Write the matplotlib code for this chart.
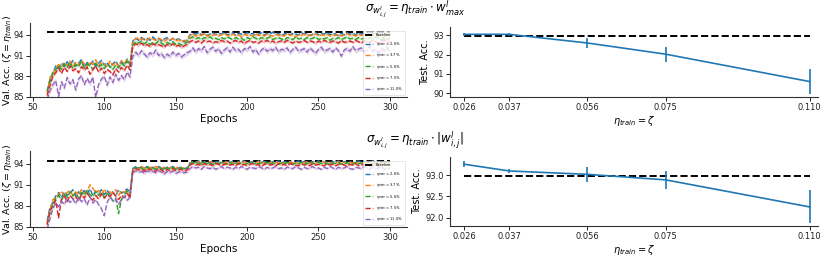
import numpy as np
import matplotlib
matplotlib.use("Agg")
import matplotlib.pyplot as plt

# ------------------------------------------------------------
# data (one value every 2 epochs: 60..300)
# ------------------------------------------------------------
epochs = np.arange(60, 301, 2)
labels = ["2.6%", "3.7%", "5.6%", "7.5%", "11.0%"]
baseline_val = 94.4

# sigma = eta * w_max
top_26 = [
    85.8, 87.6, 88.4, 89.5, 89.2, 89.9, 89.4, 90.1, 89.6, 90.3,
    89.5, 89.9, 90.4, 89.3, 90.0, 89.7, 90.2, 89.4, 89.9, 90.3,
    89.6, 90.0, 89.3, 89.8, 90.2, 89.5, 90.1, 89.7, 90.5, 89.8,
    93.1, 93.5, 93.2, 93.6, 93.3, 93.5, 93.2, 93.7, 93.3, 93.5,
    93.1, 93.4, 93.6, 93.2, 93.5, 93.3, 93.4, 93.2, 93.0, 93.3,
    94.0, 94.2, 94.1, 94.3, 94.0, 94.2, 93.9, 94.1, 94.3, 94.0,
    94.2, 94.1, 94.4, 94.0, 94.1, 94.3, 93.9, 94.2, 94.1, 94.0,
    94.3, 94.1, 94.2, 93.9, 94.1, 94.3, 94.0, 94.2, 94.1, 94.4,
    94.0, 94.2, 93.9, 94.1, 94.3, 94.0, 94.2, 94.1, 94.0, 94.3,
    94.1, 94.2, 93.9, 94.1, 94.3, 94.0, 94.2, 94.1, 94.4, 94.0,
    94.2, 94.1, 93.9, 94.2, 94.0, 94.3, 94.1, 94.2, 94.0, 94.3,
    94.1, 94.2, 94.0, 94.4, 94.1, 94.2, 93.9, 94.1, 94.3, 94.0,
    94.2,
]
top_37 = [
    85.5, 87.9, 88.1, 89.2, 89.7, 89.3, 90.0, 89.5, 90.2, 89.4,
    90.0, 89.6, 90.3, 89.8, 89.4, 90.1, 89.7, 90.4, 89.5, 90.0,
    89.8, 89.3, 90.2, 89.6, 90.0, 89.4, 90.3, 89.9, 90.4, 89.6,
    93.2, 93.4, 93.6, 93.3, 93.5, 93.2, 93.6, 93.4, 93.2, 93.5,
    93.3, 93.0, 93.4, 93.2, 93.5, 93.1, 93.3, 93.0, 93.2, 93.1,
    93.9, 94.1, 93.8, 94.0, 93.9, 94.2, 93.8, 94.0, 93.9, 94.1,
    93.8, 94.0, 94.2, 93.9, 93.8, 94.1, 93.9, 94.0, 93.7, 94.1,
    93.9, 94.0, 93.8, 94.2, 93.9, 94.0, 93.8, 94.1, 93.9, 93.8,
    94.1, 93.9, 94.0, 93.8, 94.2, 93.9, 94.0, 93.7, 94.0, 93.9,
    94.1, 93.8, 94.0, 93.9, 94.2, 93.8, 94.0, 93.9, 94.1, 93.8,
    94.0, 93.9, 94.1, 93.8, 94.0, 94.2, 93.9, 94.0, 93.8, 94.1,
    93.9, 94.0, 93.8, 94.1, 93.9, 94.2, 93.8, 94.0, 93.9, 94.1,
    93.9,
]
top_56 = [
    85.9, 87.2, 88.6, 88.9, 89.6, 89.0, 89.8, 89.3, 90.0, 89.1,
    89.7, 89.4, 90.1, 89.2, 89.8, 89.5, 89.0, 89.9, 89.3, 89.7,
    89.1, 89.8, 89.4, 89.0, 89.6, 89.2, 89.9, 89.5, 90.2, 89.4,
    92.6, 93.0, 92.8, 93.1, 92.7, 93.0, 92.6, 92.9, 92.7, 93.1,
    92.8, 92.5, 92.9, 92.7, 93.0, 92.6, 92.8, 92.5, 92.7, 92.9,
    93.5, 93.7, 93.4, 93.6, 93.3, 93.6, 93.5, 93.7, 93.4, 93.5,
    93.3, 93.6, 93.4, 93.7, 93.5, 93.3, 93.6, 93.4, 93.5, 93.2,
    93.6, 93.4, 93.7, 93.5, 93.3, 93.6, 93.4, 93.5, 93.7, 93.3,
    93.5, 93.6, 93.4, 93.2, 93.6, 93.5, 93.3, 93.7, 93.4, 93.5,
    93.3, 93.6, 93.4, 93.5, 93.7, 93.3, 93.5, 93.4, 93.6, 93.2,
    93.5, 93.4, 93.6, 93.3, 93.5, 93.7, 93.4, 93.5, 93.3, 93.6,
    93.4, 93.5, 93.3, 93.6, 93.4, 93.7, 93.5, 93.3, 93.6, 93.4,
    93.5,
]
top_75 = [
    85.2, 86.6, 88.0, 88.5, 89.2, 88.4, 89.3, 88.7, 89.5, 88.8,
    89.1, 88.5, 89.4, 88.9, 89.3, 88.3, 89.0, 89.5, 88.6, 89.2,
    88.4, 89.0, 88.7, 88.2, 89.1, 88.6, 89.3, 88.8, 89.6, 88.9,
    92.3, 92.7, 92.5, 92.8, 92.4, 92.6, 92.3, 92.7, 92.5, 92.6,
    92.4, 92.2, 92.6, 92.4, 92.7, 92.3, 92.5, 92.2, 92.4, 92.6,
    93.0, 93.2, 92.9, 93.1, 92.8, 93.2, 93.0, 93.1, 92.8, 93.0,
    92.9, 93.2, 93.0, 93.1, 92.8, 93.0, 93.2, 92.9, 93.1, 92.7,
    93.0, 93.2, 92.9, 93.0, 92.8, 93.1, 93.0, 93.2, 92.9, 93.1,
    92.8, 93.0, 93.1, 92.9, 93.2, 93.0, 92.8, 93.1, 92.9, 93.0,
    93.2, 92.9, 93.1, 93.0, 92.8, 93.1, 92.9, 93.2, 93.0, 92.9,
    93.1, 93.0, 92.8, 93.2, 92.9, 93.0, 93.1, 92.9, 93.2, 93.0,
    92.8, 93.1, 93.0, 92.9, 93.2, 93.0, 92.8, 93.1, 93.3, 92.9,
    93.0,
]
top_110 = [
    84.6, 85.9, 86.8, 87.4, 85.1, 87.2, 86.3, 87.8, 86.9, 87.5,
    86.0, 87.6, 88.1, 86.8, 87.7, 86.9, 87.9, 84.9, 86.8, 87.6,
    88.0, 86.7, 87.9, 87.1, 88.3, 87.4, 88.1, 87.5, 88.6, 87.9,
    90.9, 91.5, 91.0, 91.7, 91.2, 90.8, 91.4, 91.1, 91.8, 91.0,
    91.3, 90.7, 91.2, 90.9, 91.5, 91.0, 91.3, 90.8, 91.1, 91.4,
    91.6, 92.1, 91.5, 92.0, 91.7, 92.3, 91.4, 91.9, 92.2, 91.6,
    92.0, 91.3, 91.8, 92.1, 91.5, 92.2, 91.7, 91.9, 91.4, 92.0,
    91.8, 92.3, 91.5, 91.9, 91.2, 91.8, 92.1, 91.6, 92.0, 91.7,
    92.2, 91.5, 91.9, 91.8, 92.1, 91.4, 91.9, 92.2, 91.6, 91.8,
    92.0, 91.5, 92.1, 91.7, 91.3, 91.9, 92.2, 91.6, 91.8, 92.0,
    91.5, 92.1, 91.7, 90.9, 91.8, 92.0, 91.6, 92.3, 91.7, 91.9,
    92.1, 91.5, 91.8, 92.4, 91.6, 91.9, 91.4, 92.0, 91.7, 92.2,
    91.3,
]

# sigma = eta * |w|
bot_26 = [
    85.9, 87.8, 88.5, 89.4, 89.9, 89.2, 90.0, 89.5, 89.8, 90.3,
    89.4, 90.0, 89.6, 90.2, 89.7, 90.4, 89.5, 90.1, 89.8, 90.3,
    89.6, 90.2, 89.7, 90.0, 89.4, 90.3, 89.8, 90.1, 90.4, 89.9,
    93.3, 93.6, 93.4, 93.5, 93.3, 93.6, 93.4, 93.5, 93.2, 93.6,
    93.4, 93.3, 93.5, 93.4, 93.6, 93.3, 93.4, 93.5, 93.3, 93.4,
    94.1, 94.3, 94.2, 94.4, 94.1, 94.3, 94.2, 94.1, 94.4, 94.2,
    94.3, 94.1, 94.2, 94.4, 94.2, 94.3, 94.1, 94.3, 94.2, 94.4,
    94.1, 94.2, 94.3, 94.1, 94.4, 94.2, 94.3, 94.2, 94.1, 94.3,
    94.2, 94.4, 94.1, 94.3, 94.2, 94.3, 94.1, 94.2, 94.4, 94.2,
    94.3, 94.1, 94.2, 94.3, 94.1, 94.4, 94.2, 94.3, 94.2, 94.1,
    94.3, 94.2, 94.4, 94.1, 94.3, 94.2, 94.3, 94.1, 94.2, 94.4,
    94.2, 94.3, 94.1, 94.2, 94.4, 94.2, 94.3, 94.1, 94.3, 94.2,
    94.3,
]
bot_37 = [
    85.6, 87.3, 88.9, 89.1, 89.7, 90.1, 89.4, 89.9, 90.2, 89.5,
    90.0, 89.6, 90.3, 89.8, 90.1, 91.0, 90.5, 89.9, 90.2, 89.6,
    90.4, 89.7, 90.0, 89.8, 90.3, 89.5, 90.1, 89.9, 90.2, 89.7,
    93.2, 93.5, 93.3, 93.6, 93.4, 93.2, 93.5, 93.3, 93.6, 93.4,
    93.3, 93.5, 93.2, 93.4, 93.5, 93.3, 93.6, 93.3, 93.4, 93.2,
    94.1, 94.2, 94.0, 94.3, 94.1, 94.2, 94.0, 94.3, 94.1, 94.2,
    94.0, 94.2, 94.1, 94.3, 94.0, 94.2, 94.1, 94.2, 94.0, 94.3,
    94.1, 94.0, 94.2, 94.1, 94.3, 94.0, 94.2, 94.1, 94.2, 94.0,
    94.3, 94.1, 94.2, 94.0, 94.1, 94.3, 94.1, 94.2, 94.0, 94.2,
    94.1, 94.3, 94.0, 94.2, 94.1, 94.2, 94.0, 94.3, 94.1, 94.2,
    94.0, 94.1, 94.3, 94.1, 94.2, 94.0, 94.2, 94.1, 94.3, 94.0,
    94.2, 94.1, 94.2, 94.0, 94.3, 94.1, 94.2, 94.0, 94.1, 94.3,
    94.1,
]
bot_56 = [
    85.4, 87.0, 88.3, 89.0, 89.5, 88.8, 89.7, 89.2, 90.0, 89.4,
    89.8, 89.1, 89.9, 89.5, 90.2, 89.6, 89.3, 90.0, 89.5, 89.9,
    89.2, 89.8, 89.4, 88.7, 89.1, 86.9, 88.9, 89.6, 90.1, 89.5,
    93.2, 93.5, 93.3, 93.4, 93.1, 93.5, 93.3, 93.4, 93.2, 93.5,
    93.3, 93.1, 93.4, 93.3, 93.5, 93.2, 93.3, 93.4, 93.2, 93.3,
    94.0, 94.2, 94.0, 94.1, 93.9, 94.2, 94.0, 94.1, 93.9, 94.1,
    94.0, 94.2, 93.9, 94.0, 94.1, 93.9, 94.2, 94.0, 94.1, 93.9,
    94.0, 94.2, 94.1, 93.9, 94.0, 94.1, 94.0, 94.2, 93.9, 94.1,
    94.0, 93.9, 94.1, 94.0, 94.2, 94.0, 93.9, 94.1, 94.0, 94.2,
    93.9, 94.1, 94.0, 94.1, 93.9, 94.2, 94.0, 94.1, 94.0, 93.9,
    94.1, 94.0, 94.2, 93.9, 94.0, 94.1, 94.0, 93.9, 94.2, 94.0,
    94.1, 93.9, 94.0, 94.2, 94.0, 94.1, 93.9, 94.1, 94.0, 94.2,
    94.0,
]
bot_75 = [
    85.3, 87.4, 87.9, 88.8, 86.3, 88.9, 89.4, 88.6, 89.5, 89.0,
    89.3, 88.7, 89.6, 89.1, 89.8, 89.2, 88.8, 89.5, 89.0, 89.7,
    89.1, 89.6, 89.3, 89.9, 89.4, 88.9, 89.5, 89.2, 89.8, 89.1,
    93.0, 93.3, 93.1, 93.2, 92.9, 93.3, 93.1, 93.2, 92.9, 93.3,
    93.1, 92.8, 93.2, 93.0, 93.3, 93.0, 93.1, 93.2, 92.9, 93.1,
    93.8, 94.0, 93.8, 93.9, 93.7, 94.0, 93.8, 93.9, 93.7, 94.0,
    93.9, 93.7, 93.9, 94.0, 93.8, 93.9, 93.7, 94.0, 93.8, 93.9,
    93.7, 93.9, 94.0, 93.8, 93.9, 93.6, 93.9, 94.0, 93.8, 93.9,
    93.7, 94.0, 93.8, 93.9, 93.7, 94.0, 93.9, 93.8, 93.7, 94.0,
    93.8, 93.9, 93.7, 94.0, 93.8, 93.9, 93.8, 93.7, 94.0, 93.8,
    93.9, 93.7, 93.9, 94.0, 93.8, 93.6, 93.9, 93.8, 94.0, 93.7,
    93.9, 93.8, 94.0, 93.6, 93.9, 93.8, 93.7, 94.0, 93.8, 93.9,
    93.8,
]
bot_110 = [
    84.7, 86.2, 87.6, 88.4, 87.9, 88.7, 88.2, 89.1, 88.5, 89.0,
    88.3, 89.2, 88.6, 89.0, 88.1, 89.3, 88.4, 88.9, 88.2, 87.6,
    86.6, 88.5, 89.3, 88.7, 89.0, 88.2, 88.9, 89.4, 88.8, 89.2,
    92.7, 93.0, 92.8, 92.9, 92.6, 93.0, 92.8, 92.9, 92.7, 93.0,
    92.8, 92.5, 92.9, 92.7, 93.0, 92.6, 92.8, 92.9, 92.7, 92.8,
    93.3, 93.6, 93.4, 93.5, 93.2, 93.6, 93.4, 93.3, 93.5, 93.2,
    93.4, 93.6, 93.3, 93.5, 93.4, 93.2, 93.5, 93.3, 93.6, 93.4,
    93.2, 93.5, 93.4, 93.3, 93.6, 93.4, 93.2, 93.5, 93.3, 93.4,
    93.6, 93.3, 93.4, 93.2, 93.5, 93.4, 93.3, 93.6, 93.4, 93.2,
    93.5, 93.3, 93.4, 93.6, 93.3, 93.4, 93.2, 93.5, 93.3, 93.6,
    93.4, 93.2, 93.5, 93.3, 93.4, 93.6, 93.3, 93.2, 93.5, 93.4,
    93.3, 93.6, 93.4, 93.2, 93.5, 93.3, 93.4, 93.6, 93.2, 93.4,
    93.3,
]
top_std = [0.15, 0.15, 0.2, 0.2, 0.35]
bot_std = [0.1, 0.1, 0.12, 0.12, 0.18]

# test accuracy vs eta
eta = [0.026, 0.037, 0.056, 0.075, 0.110]
eta_labels = ["0.026", "0.037", "0.056", "0.075", "0.110"]
test_max = [93.05, 93.05, 92.6, 92.02, 90.6]
test_max_err = [0.08, 0.07, 0.27, 0.38, 0.63]
base_max = 92.98
test_abs = [93.26, 93.10, 93.02, 92.89, 92.25]
test_abs_err = [0.07, 0.05, 0.17, 0.21, 0.39]
base_abs = 92.985

# ------------------------------------------------------------
W, H = 830, 256
fig = plt.figure(figsize=(W / 100, H / 100), dpi=100)
plt.rcParams['font.family'] = ['DejaVu Sans']


def box(x0, y0, x1, y1):
    return [x0 / W, 1 - y1 / H, (x1 - x0) / W, (y1 - y0) / H]


def style(ax):
    for s in ['top', 'right']:
        ax.spines[s].set_visible(False)
    for s in ['left', 'bottom']:
        ax.spines[s].set_linewidth(0.8)
        ax.spines[s].set_color('#333333')
    ax.tick_params(labelsize=6, length=3, width=0.7, pad=1.5, colors='#222222')


def curves(ax, series, stds, ylim):
    ax.hlines(baseline_val, 60, 300, colors='k', linestyles='--', lw=1.4,
              label='Baseline')
    for i, (vals, sd) in enumerate(zip(series, stds)):
        v = np.array(vals)
        ax.fill_between(epochs, v - sd, v + sd, color=f'C{i}', alpha=0.25, lw=0)
        ax.plot(epochs, v, color=f'C{i}', ls='--', lw=1.0,
                label=r'$\eta_{train}$ = ' + labels[i])
    ax.set_xlim(48, 312)
    ax.set_ylim(*ylim)
    ax.set_xticks([50, 100, 150, 200, 250, 300])
    ax.set_yticks([85, 88, 91, 94])
    ax.set_xlabel('Epochs', fontsize=7.5, labelpad=1)
    ax.set_ylabel(r'Val. Acc. ($\zeta = \eta_{train}$)', fontsize=6.8)
    ax.yaxis.set_label_coords(-0.043, 0.5)
    leg = ax.legend(loc='lower right', fontsize=2.6, handlelength=2.2,
                    borderpad=0.6, labelspacing=0.9, frameon=True)
    leg.get_frame().set_linewidth(0.4)
    style(ax)


def test_plot(ax, vals, errs, base, ylim, yticks, fmt):
    ax.hlines(base, eta[0], eta[-1], colors='k', linestyles='--', lw=1.4)
    ax.errorbar(eta, vals, yerr=errs, color='C0', lw=1.2, elinewidth=1.2,
                capsize=0)
    ax.set_xlim(0.0226, 0.112)
    ax.set_ylim(*ylim)
    ax.set_xticks(eta)
    ax.set_xticklabels(eta_labels)
    ax.set_yticks(yticks)
    ax.set_yticklabels([fmt.format(t) for t in yticks])
    ax.set_xlabel(r'$\eta_{train} = \zeta$', fontsize=7, labelpad=1)
    ax.set_ylabel('Test. Acc.', fontsize=7, labelpad=2)
    style(ax)


ax1 = fig.add_axes(box(30, 23, 407, 97))
curves(ax1, [top_26, top_37, top_56, top_75, top_110], top_std, (85, 95.7))
ax2 = fig.add_axes(box(450, 27, 818, 97))
test_plot(ax2, test_max, test_max_err, base_max, (89.8, 93.43),
          [90, 91, 92, 93], '{:.0f}')

ax3 = fig.add_axes(box(30, 151, 407, 227))
curves(ax3, [bot_26, bot_37, bot_56, bot_75, bot_110], bot_std, (85, 95.8))
ax4 = fig.add_axes(box(450, 157, 818, 226))
test_plot(ax4, test_abs, test_abs_err, base_abs, (91.8, 93.43),
          [92.0, 92.5, 93.0], '{:.1f}')

fig.text(0.5, 1 - 9 / H, r'$\sigma_{w^l_{i,j}} = \eta_{train} \cdot w^l_{max}$',
         ha='center', va='center', fontsize=8.5)
fig.text(0.5, 1 - 140 / H, r'$\sigma_{w^l_{i,j}} = \eta_{train} \cdot |w^l_{i,j}|$',
         ha='center', va='center', fontsize=8.5)

fig.savefig('out.png', dpi=100)
